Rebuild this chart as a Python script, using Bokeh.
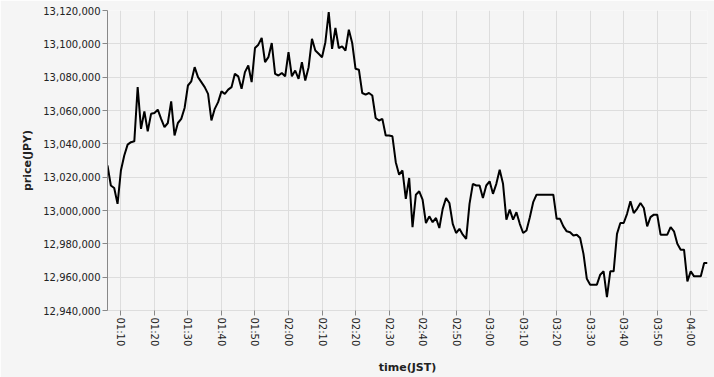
import pandas as pd
from bokeh.plotting import figure
from bokeh.models import Range1d, NumeralTickFormatter, DatetimeTickFormatter, FixedTicker, ColumnDataSource
from bokeh.embed import file_html
from bokeh.resources import INLINE

DAY = "2024-01-01"
start_time = "01:06"
price = [
    13027000, 13015000, 13013500, 13004000,                      # 01:06-01:09
    13024000, 13033000, 13039500, 13041000, 13041500,            # 01:10-01:14
    13074000, 13049000, 13059500, 13047500, 13058000,            # 01:15-01:19
    13058500, 13060500, 13055000, 13050000, 13052500,            # 01:20-01:24
    13065500, 13045000, 13052500, 13055000, 13061500,            # 01:25-01:29
    13075000, 13077500, 13086000, 13080000, 13077000,            # 01:30-01:34
    13074000, 13070000, 13054000, 13061000, 13065000,            # 01:35-01:39
    13071500, 13070000, 13072500, 13074000, 13082000,            # 01:40-01:44
    13080500, 13073000, 13083000, 13087000, 13077000,            # 01:45-01:49
    13097500, 13099500, 13103500, 13089000, 13092000,            # 01:50-01:54
    13100500, 13082000, 13081000, 13082500, 13080500,            # 01:55-01:59
    13095000, 13080500, 13084000, 13079000, 13089000,            # 02:00-02:04
    13078000, 13086000, 13103000, 13096000, 13094000,            # 02:05-02:09
    13092000, 13101000, 13119000, 13097000, 13109500,            # 02:10-02:14
    13097500, 13098500, 13096000, 13108500, 13100500,            # 02:15-02:19
    13085000, 13084500, 13070500, 13069500, 13070500,            # 02:20-02:24
    13069000, 13055500, 13054000, 13055000, 13045000,            # 02:25-02:29
    13045000, 13044500, 13029000, 13021500, 13024000,            # 02:30-02:34
    13007000, 13019500, 12990000, 13009500, 13011500,            # 02:35-02:39
    13006500, 12992500, 12996500, 12993000, 12995500,            # 02:40-02:44
    12989500, 13001000, 13007500, 13004500, 12992000,            # 02:45-02:49
    12986500, 12989000, 12985500, 12983000, 13004000,            # 02:50-02:54
    13016000, 13015000, 13015000, 13007500, 13015000,            # 02:55-02:59
    13017500, 13010000, 13016000, 13024500, 13016000,            # 03:00-03:04
    12994500, 13000500, 12994500, 12999000, 12992000,            # 03:05-03:09
    12986500, 12988000, 12996000, 13005000, 13009500,            # 03:10-03:14
    13009500, 13009500, 13009500, 13009500, 13009500,            # 03:15-03:19
    12995000, 12995000, 12990500, 12987500, 12987000,            # 03:20-03:24
    12985000, 12985500, 12983500, 12974000, 12959000,            # 03:25-03:29
    12955500, 12955500, 12955500, 12961500, 12963500,            # 03:30-03:34
    12948000, 12963500, 12963500, 12986000, 12992500,            # 03:35-03:39
    12992500, 12998000, 13005500, 12998500, 13001000,            # 03:40-03:44
    13004500, 13001500, 12990500, 12996000, 12997500,            # 03:45-03:49
    12997500, 12985500, 12985500, 12985500, 12990000,            # 03:50-03:54
    12987500, 12980000, 12976500, 12976500, 12957500,            # 03:55-03:59
    12963500, 12960500, 12960500, 12960500, 12968500,            # 04:00-04:04
    12968500,                                                    # 04:05
]
time = pd.date_range(f"{DAY} {start_time}", periods=len(price), freq="1min")
tick_labels = ["01:10", "01:20", "01:30", "01:40", "01:50", "02:00", "02:10", "02:20", "02:30",
               "02:40", "02:50", "03:00", "03:10", "03:20", "03:30", "03:40", "03:50", "04:00"]
y_min, y_max = 12940000, 13120000

src = ColumnDataSource(dict(time=time, price=price))

BG = "#f5f5f5"
p = figure(width=714, height=377, x_axis_type="datetime", output_backend="svg",
           toolbar_location=None, background_fill_color=BG, border_fill_color=BG,
           min_border_left=107, min_border_right=7, min_border_top=10, min_border_bottom=67,
           outline_line_color=None)
p.x_range = Range1d(time[0], time[-1])
p.y_range = Range1d(y_min, y_max)

p.line("time", "price", source=src, line_color="black", line_width=2)

tick_ms = [pd.Timestamp(f"{DAY} {t}").value // 10**6 for t in tick_labels]
p.xaxis.ticker = FixedTicker(ticks=tick_ms)
p.xaxis.formatter = DatetimeTickFormatter(minutes="%H:%M", hours="%H:%M", minsec="%H:%M", hourmin="%H:%M")
p.xaxis.major_label_orientation = "vertical"
p.yaxis.formatter = NumeralTickFormatter(format="0,0")
p.yaxis.ticker = FixedTicker(ticks=list(range(y_min, y_max + 1, 20000)))

for ax in (p.xaxis, p.yaxis):
    ax.minor_tick_line_color = None
    ax.major_tick_in = 0
    ax.major_tick_out = 5
    ax.major_tick_line_color = "#888888"
    ax.axis_line_color = "#888888"
    ax.major_label_text_font = "DejaVu Sans"
    ax.major_label_text_font_size = "10px"
    ax.major_label_text_color = "#222222"
    ax.major_label_standoff = 2
    ax.axis_label_text_font = "DejaVu Sans"
    ax.axis_label_text_font_size = "11px"
    ax.axis_label_text_font_style = "bold"
    ax.axis_label_text_color = "#222222"

p.xaxis.axis_line_color = "#dddddd"
p.xaxis.axis_label = "time(JST)"
p.yaxis.axis_label = "price(JPY)"
p.xaxis.axis_label_standoff = 12
p.yaxis.axis_label_standoff = 6

p.grid.grid_line_color = "#dddddd"
p.grid.grid_line_width = 1

open("out.html", "w").write(file_html(p, INLINE))
